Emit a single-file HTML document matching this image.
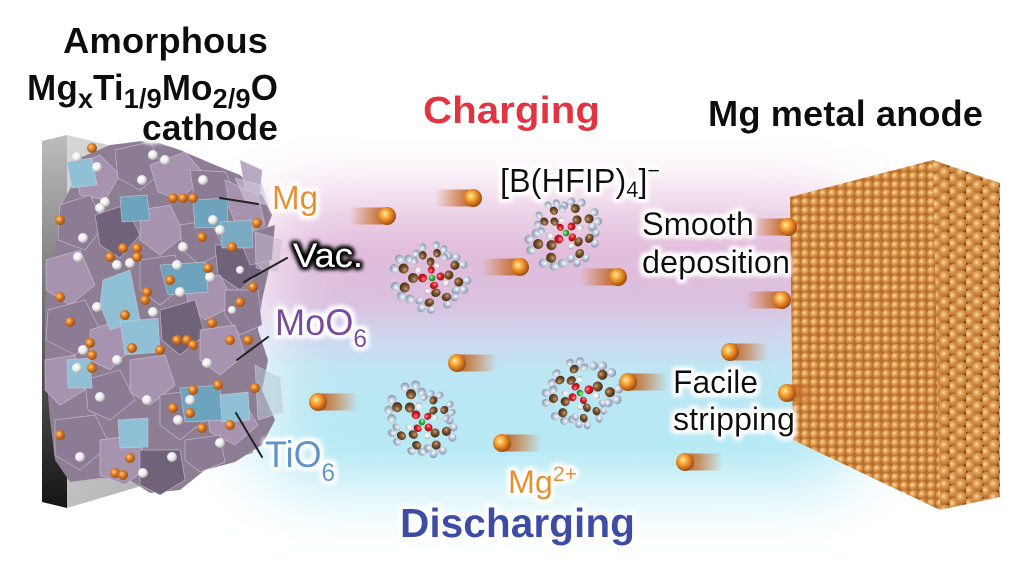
<!DOCTYPE html>
<html><head><meta charset="utf-8"><style>html,body{margin:0;padding:0;background:#fff;}svg{display:block;}</style></head>
<body>
<svg width="1024" height="576" viewBox="0 0 1024 576" xmlns="http://www.w3.org/2000/svg" xmlns:xlink="http://www.w3.org/1999/xlink" font-family="'Liberation Sans', Arial, sans-serif">
<defs>
  <linearGradient id="bgv" gradientUnits="userSpaceOnUse" x1="0" y1="130" x2="0" y2="560">
    <stop offset="0" stop-color="#ffffff"/>
    <stop offset="0.13" stop-color="#eed5e9"/>
    <stop offset="0.28" stop-color="#e1bcdb"/>
    <stop offset="0.40" stop-color="#dbc0df"/>
    <stop offset="0.48" stop-color="#cfd6ee"/>
    <stop offset="0.56" stop-color="#bde6f3"/>
    <stop offset="0.75" stop-color="#b5e9f5"/>
    <stop offset="0.88" stop-color="#d6f4fa"/>
    <stop offset="1" stop-color="#ffffff"/>
  </linearGradient>
  <filter id="b40" x="-50%" y="-50%" width="200%" height="200%"><feGaussianBlur stdDeviation="38"/></filter>
  <mask id="cm" maskUnits="userSpaceOnUse" x="0" y="0" width="1024" height="576">
    <rect x="0" y="0" width="1024" height="576" fill="#000"/>
    <rect x="262" y="178" width="595" height="330" rx="60" fill="#fff" filter="url(#b40)"/>
  </mask>

  <radialGradient id="gM" cx="0.4" cy="0.4" r="0.65" fx="0.38" fy="0.38">
    <stop offset="0" stop-color="#fff6c8"/><stop offset="0.2" stop-color="#ffc45a"/>
    <stop offset="0.6" stop-color="#e07e20"/><stop offset="1" stop-color="#8e4510"/>
  </radialGradient>
  <radialGradient id="gA" cx="0.38" cy="0.38" r="0.7">
    <stop offset="0" stop-color="#ffe6b0"/><stop offset="0.3" stop-color="#eaa85c"/>
    <stop offset="0.75" stop-color="#c87c36"/><stop offset="1" stop-color="#9a5820"/>
  </radialGradient>
  <radialGradient id="gO" cx="0.38" cy="0.38" r="0.7">
    <stop offset="0" stop-color="#ff9a9a"/><stop offset="0.4" stop-color="#e0202a"/><stop offset="1" stop-color="#8a0a10"/>
  </radialGradient>
  <radialGradient id="gC" cx="0.38" cy="0.38" r="0.7">
    <stop offset="0" stop-color="#c9a27a"/><stop offset="0.4" stop-color="#7e5733"/><stop offset="1" stop-color="#3e2610"/>
  </radialGradient>
  <radialGradient id="gF" cx="0.38" cy="0.38" r="0.7">
    <stop offset="0" stop-color="#ffffff"/><stop offset="0.4" stop-color="#c3cfdf"/><stop offset="1" stop-color="#7f8da3"/>
  </radialGradient>
  <radialGradient id="gB" cx="0.38" cy="0.38" r="0.7">
    <stop offset="0" stop-color="#b0ffb0"/><stop offset="0.4" stop-color="#3dbb4a"/><stop offset="1" stop-color="#1a6a20"/>
  </radialGradient>
  <radialGradient id="gW" cx="0.38" cy="0.38" r="0.7">
    <stop offset="0" stop-color="#ffffff"/><stop offset="0.5" stop-color="#eeeeee"/><stop offset="1" stop-color="#9a9a9a"/>
  </radialGradient>
  <radialGradient id="gOr" cx="0.38" cy="0.38" r="0.7">
    <stop offset="0" stop-color="#ffd59a"/><stop offset="0.35" stop-color="#e8862a"/><stop offset="1" stop-color="#8a4410"/>
  </radialGradient>
  <linearGradient id="trL" x1="0" y1="0" x2="1" y2="0">
    <stop offset="0" stop-color="#d27a3a" stop-opacity="0"/>
    <stop offset="0.6" stop-color="#c8702f" stop-opacity="0.7"/>
    <stop offset="1" stop-color="#b45a20" stop-opacity="0.95"/>
  </linearGradient>
  <linearGradient id="trR" x1="1" y1="0" x2="0" y2="0">
    <stop offset="0" stop-color="#d27a3a" stop-opacity="0"/>
    <stop offset="0.6" stop-color="#c8702f" stop-opacity="0.7"/>
    <stop offset="1" stop-color="#b45a20" stop-opacity="0.95"/>
  </linearGradient>
  <linearGradient id="sideG" x1="0" y1="0" x2="0" y2="1">
    <stop offset="0" stop-color="#bdbdbd"/><stop offset="0.5" stop-color="#6a6a6a"/><stop offset="1" stop-color="#141414"/>
  </linearGradient>
  <linearGradient id="frontG" x1="0" y1="0" x2="1" y2="1">
    <stop offset="0" stop-color="#d6d6d6"/><stop offset="1" stop-color="#a8a8a8"/>
  </linearGradient>

  <pattern id="pf" width="9" height="8.6" patternUnits="userSpaceOnUse">
    <rect width="9" height="8.6" fill="#b2702f"/>
    <circle cx="4.5" cy="4.3" r="4.6" fill="url(#gA)"/>
  </pattern>
  <pattern id="ps" width="16.5" height="13" patternUnits="userSpaceOnUse" x="933" y="160">
    <rect width="16.5" height="13" fill="#7a4418"/>
    <circle cx="4" cy="6.5" r="6.6" fill="url(#gA)"/>
    <circle cx="12.25" cy="0" r="6.6" fill="url(#gA)"/>
    <circle cx="12.25" cy="13" r="6.6" fill="url(#gA)"/>
  </pattern>

  <filter id="wh" x="-30%" y="-40%" width="160%" height="180%">
    <feMorphology in="SourceAlpha" operator="dilate" radius="2.5" result="d"/>
    <feGaussianBlur in="d" stdDeviation="2.5" result="b"/>
    <feFlood flood-color="#ffffff"/>
    <feComposite in2="b" operator="in" result="w"/>
    <feMerge><feMergeNode in="w"/><feMergeNode in="w"/><feMergeNode in="SourceGraphic"/></feMerge>
  </filter>
  <filter id="dh" x="-30%" y="-40%" width="160%" height="180%">
    <feMorphology in="SourceAlpha" operator="dilate" radius="2.2" result="d"/>
    <feGaussianBlur in="d" stdDeviation="2.2" result="b"/>
    <feFlood flood-color="#000000"/>
    <feComposite in2="b" operator="in" result="w"/>
    <feMerge><feMergeNode in="w"/><feMergeNode in="w"/><feMergeNode in="SourceGraphic"/></feMerge>
  </filter>

  <g id="arm">
    <circle cx="29" cy="-17" r="4.3" fill="url(#gF)"/>
    <circle cx="35" cy="-8" r="4.3" fill="url(#gF)"/>
    <circle cx="21" cy="-20" r="4.3" fill="url(#gF)"/>
    <circle cx="36" cy="9" r="4.3" fill="url(#gF)"/>
    <circle cx="31" cy="18" r="4.3" fill="url(#gF)"/>
    <circle cx="22" cy="18" r="4.3" fill="url(#gF)"/>
    <circle cx="26" cy="-9" r="4.8" fill="url(#gC)"/>
    <circle cx="27" cy="9" r="4.8" fill="url(#gC)"/>
    <circle cx="18" cy="0" r="4.8" fill="url(#gC)"/>
    <circle cx="14" cy="8" r="3" fill="url(#gW)"/>
    <circle cx="9" cy="0" r="4.2" fill="url(#gO)"/>
  </g>
  <g id="mol">
    <use xlink:href="#arm" href="#arm" transform="rotate(-20) scale(0.95)"/>
    <use xlink:href="#arm" href="#arm" transform="rotate(65) scale(0.85,1)"/>
    <use xlink:href="#arm" href="#arm" transform="rotate(170) scale(1.05)"/>
    <use xlink:href="#arm" href="#arm" transform="rotate(255) scale(0.9,0.8)"/>
    <circle r="3.3" fill="url(#gB)"/>
  </g>
</defs>

<!-- background cloud -->
<rect x="0" y="0" width="1024" height="576" fill="#ffffff"/>
<rect x="0" y="0" width="1024" height="576" fill="url(#bgv)" mask="url(#cm)"/>

<!-- CATHODE -->
<polygon points="42,141 67,135 67,508 42,502" fill="url(#sideG)"/>
<polygon points="67,135 253,180 253,453 67,508" fill="url(#frontG)"/>

<g stroke="#d8cde0" stroke-width="0.7" stroke-opacity="0.7">
  <polygon points="75,160 110,145 150,140 180,150 215,165 240,175 262,195 272,215 262,240 270,265 262,300 258,330 268,360 262,390 275,420 262,445 235,462 205,470 180,490 150,493 130,480 100,478 70,482 55,460 50,420 45,360 45,300 55,250 62,205 72,185" fill="#8e7e94" stroke="none"/>
  <polygon points="75,165 100,155 120,175 105,200 80,195" fill="#a593b0"/>
  <polygon points="115,150 150,142 165,170 140,190 118,178" fill="#8b7b95"/>
  <polygon points="150,165 185,152 205,175 180,200 158,192" fill="#a593b0"/>
  <polygon points="190,170 225,172 240,200 215,215 195,200" fill="#8b7b95"/>
  <polygon points="225,180 258,195 265,225 240,235 230,210" fill="#a593b0"/>
  <polygon points="60,205 90,195 105,225 85,250 58,240" fill="#8b7b95"/>
  <polygon points="95,215 125,205 140,235 120,258 100,245" fill="#6f6279"/>
  <polygon points="140,210 170,205 185,235 160,255 140,240" fill="#a593b0"/>
  <polygon points="180,225 210,220 225,250 200,265 182,250" fill="#8b7b95"/>
  <polygon points="215,245 245,245 262,270 240,290 218,275" fill="#6f6279"/>
  <polygon points="46,260 80,250 95,285 70,305 46,290" fill="#a593b0"/>
  <polygon points="140,260 175,255 185,285 160,305 140,290" fill="#8b7b95"/>
  <polygon points="185,280 220,275 235,305 205,320 188,305" fill="#a593b0"/>
  <polygon points="225,290 258,290 262,325 240,335 225,315" fill="#8b7b95"/>
  <polygon points="48,310 85,300 100,330 75,355 46,340" fill="#8b7b95"/>
  <polygon points="90,330 120,320 130,350 110,370 90,360" fill="#a593b0"/>
  <polygon points="160,310 195,300 205,335 180,355 162,340" fill="#6f6279"/>
  <polygon points="200,330 235,325 245,355 220,375 200,360" fill="#a593b0"/>
  <polygon points="45,360 75,355 85,390 60,405 45,390" fill="#a593b0"/>
  <polygon points="85,380 120,370 135,400 110,420 88,410" fill="#8b7b95"/>
  <polygon points="130,360 165,355 175,385 150,405 130,392" fill="#a593b0"/>
  <polygon points="160,395 195,390 205,420 180,440 160,425" fill="#8b7b95"/>
  <polygon points="205,400 240,395 258,425 235,445 210,432" fill="#a593b0"/>
  <polygon points="55,420 95,415 110,445 80,470 55,455" fill="#8b7b95"/>
  <polygon points="100,440 135,435 150,465 125,485 100,475" fill="#a593b0"/>
  <polygon points="140,450 180,450 185,480 160,495 140,485" fill="#6f6279"/>
  <polygon points="185,440 220,435 225,462 200,472 185,460" fill="#8b7b95"/>
  <polygon points="238,235 275,225 272,260 250,265" fill="#8b7b95"/>
  <polygon points="240,160 262,170 260,195 245,190" fill="#b8a9c2"/>
  <!-- blue TiO6 -->
  <polygon points="67,162 92,158 97,185 72,188" fill="#8fc0d6"/>
  <polygon points="120,197 147,195 150,220 122,222" fill="#6ea3bd"/>
  <polygon points="103,280 130,270 140,320 110,330 100,305" fill="#8fc0d6"/>
  <polygon points="160,265 205,262 208,292 168,295" fill="#6ea3bd"/>
  <polygon points="120,322 158,318 160,352 125,355" fill="#8fc0d6"/>
  <polygon points="67,360 90,358 92,388 68,388" fill="#8fc0d6"/>
  <polygon points="180,388 220,385 222,420 185,422" fill="#6ea3bd"/>
  <polygon points="118,420 148,418 148,447 120,448" fill="#8fc0d6"/>
  <polygon points="193,200 227,198 228,227 195,228" fill="#6ea3bd"/>
  <polygon points="220,222 252,220 253,248 222,248" fill="#7aaac2"/>
  <polygon points="220,395 248,392 250,420 222,422" fill="#8fc0d6"/>
  <!-- translucent protruding -->
  <polygon points="255,232 282,240 278,272 256,268" fill="#c8bcd0" fill-opacity="0.55"/>
  <polygon points="255,365 280,378 283,412 258,420" fill="#b7c8d4" fill-opacity="0.55"/>
  <polygon points="235,178 262,185 268,205 245,200" fill="#d0c6d8" fill-opacity="0.6"/>
</g>
<!-- cathode spheres -->
<g>
  <circle cx="77" cy="157" r="5" fill="url(#gW)"/><circle cx="97" cy="167" r="5" fill="url(#gW)"/>
  <circle cx="105" cy="202" r="5" fill="url(#gW)"/><circle cx="100" cy="208" r="5" fill="url(#gW)"/>
  <circle cx="153" cy="155" r="5" fill="url(#gW)"/><circle cx="165" cy="160" r="5" fill="url(#gW)"/>
  <circle cx="142" cy="180" r="5" fill="url(#gW)"/><circle cx="203" cy="180" r="5" fill="url(#gW)"/>
  <circle cx="213" cy="220" r="5" fill="url(#gW)"/><circle cx="220" cy="230" r="5" fill="url(#gW)"/>
  <circle cx="83" cy="238" r="5" fill="url(#gW)"/><circle cx="130" cy="263" r="5" fill="url(#gW)"/>
  <circle cx="117" cy="265" r="5" fill="url(#gW)"/><circle cx="78" cy="257" r="5" fill="url(#gW)"/>
  <circle cx="183" cy="247" r="5" fill="url(#gW)"/><circle cx="177" cy="265" r="5" fill="url(#gW)"/>
  <circle cx="180" cy="292" r="5" fill="url(#gW)"/><circle cx="97" cy="307" r="5" fill="url(#gW)"/>
  <circle cx="153" cy="312" r="5" fill="url(#gW)"/><circle cx="210" cy="277" r="5" fill="url(#gW)"/>
  <circle cx="83" cy="350" r="5" fill="url(#gW)"/><circle cx="117" cy="360" r="5" fill="url(#gW)"/>
  <circle cx="77" cy="368" r="5" fill="url(#gW)"/><circle cx="207" cy="363" r="5" fill="url(#gW)"/>
  <circle cx="147" cy="400" r="5" fill="url(#gW)"/><circle cx="100" cy="397" r="5" fill="url(#gW)"/>
  <circle cx="190" cy="400" r="5" fill="url(#gW)"/><circle cx="178" cy="420" r="5" fill="url(#gW)"/>
  <circle cx="220" cy="443" r="5" fill="url(#gW)"/><circle cx="80" cy="457" r="5" fill="url(#gW)"/>
  <circle cx="143" cy="473" r="5" fill="url(#gW)"/><circle cx="172" cy="457" r="5" fill="url(#gW)"/>
  <circle cx="240" cy="270" r="4" fill="url(#gW)"/><circle cx="232" cy="310" r="4" fill="url(#gW)"/>

  <circle cx="92" cy="148" r="5" fill="url(#gOr)"/><circle cx="60" cy="220" r="5" fill="url(#gOr)"/>
  <circle cx="173" cy="198" r="5" fill="url(#gOr)"/><circle cx="183" cy="198" r="5" fill="url(#gOr)"/>
  <circle cx="193" cy="198" r="5" fill="url(#gOr)"/><circle cx="202" cy="237" r="5" fill="url(#gOr)"/>
  <circle cx="232" cy="247" r="5" fill="url(#gOr)"/><circle cx="123" cy="248" r="5" fill="url(#gOr)"/>
  <circle cx="137" cy="248" r="5" fill="url(#gOr)"/><circle cx="110" cy="257" r="5" fill="url(#gOr)"/>
  <circle cx="137" cy="257" r="5" fill="url(#gOr)"/><circle cx="170" cy="280" r="5" fill="url(#gOr)"/>
  <circle cx="208" cy="268" r="5" fill="url(#gOr)"/><circle cx="60" cy="297" r="5" fill="url(#gOr)"/>
  <circle cx="147" cy="292" r="5" fill="url(#gOr)"/><circle cx="145" cy="300" r="5" fill="url(#gOr)"/>
  <circle cx="240" cy="302" r="5" fill="url(#gOr)"/><circle cx="70" cy="322" r="5" fill="url(#gOr)"/>
  <circle cx="125" cy="315" r="5" fill="url(#gOr)"/><circle cx="212" cy="323" r="5" fill="url(#gOr)"/>
  <circle cx="90" cy="343" r="5" fill="url(#gOr)"/><circle cx="92" cy="355" r="5" fill="url(#gOr)"/>
  <circle cx="92" cy="368" r="5" fill="url(#gOr)"/><circle cx="132" cy="348" r="5" fill="url(#gOr)"/>
  <circle cx="160" cy="350" r="5" fill="url(#gOr)"/><circle cx="177" cy="340" r="5" fill="url(#gOr)"/>
  <circle cx="187" cy="340" r="5" fill="url(#gOr)"/><circle cx="193" cy="345" r="5" fill="url(#gOr)"/>
  <circle cx="230" cy="340" r="5" fill="url(#gOr)"/><circle cx="248" cy="340" r="5" fill="url(#gOr)"/>
  <circle cx="218" cy="385" r="5" fill="url(#gOr)"/><circle cx="193" cy="390" r="5" fill="url(#gOr)"/>
  <circle cx="173" cy="408" r="5" fill="url(#gOr)"/><circle cx="190" cy="413" r="5" fill="url(#gOr)"/>
  <circle cx="202" cy="428" r="5" fill="url(#gOr)"/><circle cx="230" cy="425" r="5" fill="url(#gOr)"/>
  <circle cx="60" cy="435" r="5" fill="url(#gOr)"/><circle cx="130" cy="458" r="5" fill="url(#gOr)"/>
  <circle cx="115" cy="473" r="5" fill="url(#gOr)"/><circle cx="123" cy="475" r="5" fill="url(#gOr)"/>
  <circle cx="255" cy="388" r="5" fill="url(#gOr)"/><circle cx="253" cy="287" r="5" fill="url(#gOr)"/>
  <circle cx="257" cy="223" r="5" fill="url(#gOr)"/>
</g>

<!-- ANODE -->
<polygon points="933,160 1000,183 1000,497 940,510" fill="url(#ps)"/>
<polygon points="790,197 933,160 940,510 793,440" fill="url(#pf)"/>
<polygon points="933,160 1000,183 1000,497 940,510" fill="#000" fill-opacity="0.04"/>

<!-- molecules -->
<use xlink:href="#mol" href="#mol" transform="translate(432,278) rotate(10)"/>
<use xlink:href="#mol" href="#mol" transform="translate(566,233) rotate(-30)"/>
<use xlink:href="#mol" href="#mol" transform="translate(422,422) rotate(60)"/>
<use xlink:href="#mol" href="#mol" transform="translate(580,393) rotate(170)"/>

<!-- Mg ions: charging (moving right) -->
<g>
  <rect x="349" y="207.5" width="38" height="17" fill="url(#trL)"/><circle cx="387" cy="216" r="9" fill="url(#gM)"/>
  <rect x="435" y="189.5" width="38" height="17" fill="url(#trL)"/><circle cx="473" cy="198" r="9" fill="url(#gM)"/>
  <rect x="482" y="258.5" width="38" height="17" fill="url(#trL)"/><circle cx="520" cy="267" r="9" fill="url(#gM)"/>
  <rect x="580" y="268.5" width="38" height="17" fill="url(#trL)"/><circle cx="618" cy="277" r="9" fill="url(#gM)"/>
  <rect x="752" y="218.5" width="36" height="17" fill="url(#trL)"/><circle cx="788" cy="227" r="9" fill="url(#gM)"/>
  <rect x="746" y="291.5" width="36" height="17" fill="url(#trL)"/><circle cx="782" cy="300" r="9" fill="url(#gM)"/>
</g>
<!-- discharging (moving left) -->
<g>
  <rect x="318" y="393.5" width="40" height="17" fill="url(#trR)"/><circle cx="318" cy="402" r="9" fill="url(#gM)"/>
  <rect x="457" y="354.5" width="40" height="17" fill="url(#trR)"/><circle cx="457" cy="363" r="9" fill="url(#gM)"/>
  <rect x="502" y="434.5" width="40" height="17" fill="url(#trR)"/><circle cx="502" cy="443" r="9" fill="url(#gM)"/>
  <rect x="628" y="373.5" width="40" height="17" fill="url(#trR)"/><circle cx="628" cy="382" r="9" fill="url(#gM)"/>
  <rect x="685" y="453.5" width="38" height="17" fill="url(#trR)"/><circle cx="685" cy="462" r="9" fill="url(#gM)"/>
  <rect x="730" y="343.5" width="38" height="17" fill="url(#trR)"/><circle cx="730" cy="352" r="9" fill="url(#gM)"/>
  <rect x="787" y="384.5" width="30" height="17" fill="url(#trR)"/><circle cx="787" cy="393" r="9" fill="url(#gM)"/>
</g>

<!-- pointer lines -->
<g stroke="#222" stroke-width="2" stroke-linecap="round">
  <line x1="220" y1="198" x2="258" y2="204"/>
  <line x1="244" y1="282" x2="287" y2="258"/>
  <line x1="237" y1="360" x2="268" y2="337"/>
  <line x1="236" y1="413" x2="262" y2="457"/>
</g>

<!-- TEXT -->
<g font-weight="bold" fill="#111" font-size="36">
  <text x="63" y="53" textLength="205" lengthAdjust="spacingAndGlyphs" filter="url(#wh)">Amorphous</text>
  <text x="27" y="100" textLength="251" lengthAdjust="spacingAndGlyphs" filter="url(#wh)">Mg<tspan font-size="28" dy="8">x</tspan><tspan dy="-8">Ti</tspan><tspan font-size="28" dy="8">1/9</tspan><tspan dy="-8">Mo</tspan><tspan font-size="28" dy="8">2/9</tspan><tspan dy="-8">O</tspan></text>
  <text x="142" y="140" textLength="136" lengthAdjust="spacingAndGlyphs" filter="url(#wh)">cathode</text>
  <text x="708" y="126" textLength="275" lengthAdjust="spacingAndGlyphs" filter="url(#wh)">Mg metal anode</text>
</g>
<text x="423" y="123" font-size="38" font-weight="bold" fill="#e3323f" textLength="177" lengthAdjust="spacingAndGlyphs" filter="url(#wh)">Charging</text>
<text x="400" y="537" font-size="41" font-weight="bold" fill="#3d4ea6" textLength="235" lengthAdjust="spacingAndGlyphs" filter="url(#wh)">Discharging</text>

<text x="500" y="192" font-size="33" fill="#111" textLength="160" lengthAdjust="spacingAndGlyphs" filter="url(#wh)">[B(HFIP)<tspan font-size="22" dy="5">4</tspan><tspan dy="-5">]</tspan><tspan font-size="22" dy="-14">−</tspan></text>

<g font-size="32" fill="#111">
  <text x="642" y="235" textLength="112" lengthAdjust="spacingAndGlyphs" filter="url(#wh)">Smooth</text>
  <text x="642" y="273" textLength="148" lengthAdjust="spacingAndGlyphs" filter="url(#wh)">deposition</text>
  <text x="673" y="393" textLength="85" lengthAdjust="spacingAndGlyphs" filter="url(#wh)">Facile</text>
  <text x="673" y="430" textLength="122" lengthAdjust="spacingAndGlyphs" filter="url(#wh)">stripping</text>
</g>

<text x="272" y="209" font-size="33" fill="#e8902a" textLength="46" lengthAdjust="spacingAndGlyphs" filter="url(#wh)">Mg</text>
<text x="293" y="267" font-size="34" fill="#ffffff" textLength="70" lengthAdjust="spacingAndGlyphs" filter="url(#dh)">Vac.</text>
<text x="275" y="335" font-size="37" fill="#7a4a9e" textLength="92" lengthAdjust="spacingAndGlyphs" filter="url(#wh)">MoO<tspan font-size="25" dy="12">6</tspan></text>
<text x="265" y="467" font-size="37" fill="#5b93c9" textLength="70" lengthAdjust="spacingAndGlyphs" filter="url(#wh)">TiO<tspan font-size="25" dy="14">6</tspan></text>
<text x="508" y="493" font-size="32" fill="#e8902a" textLength="69" lengthAdjust="spacingAndGlyphs" filter="url(#wh)">Mg<tspan font-size="21" dy="-12">2+</tspan></text>
</svg>
</body></html>
